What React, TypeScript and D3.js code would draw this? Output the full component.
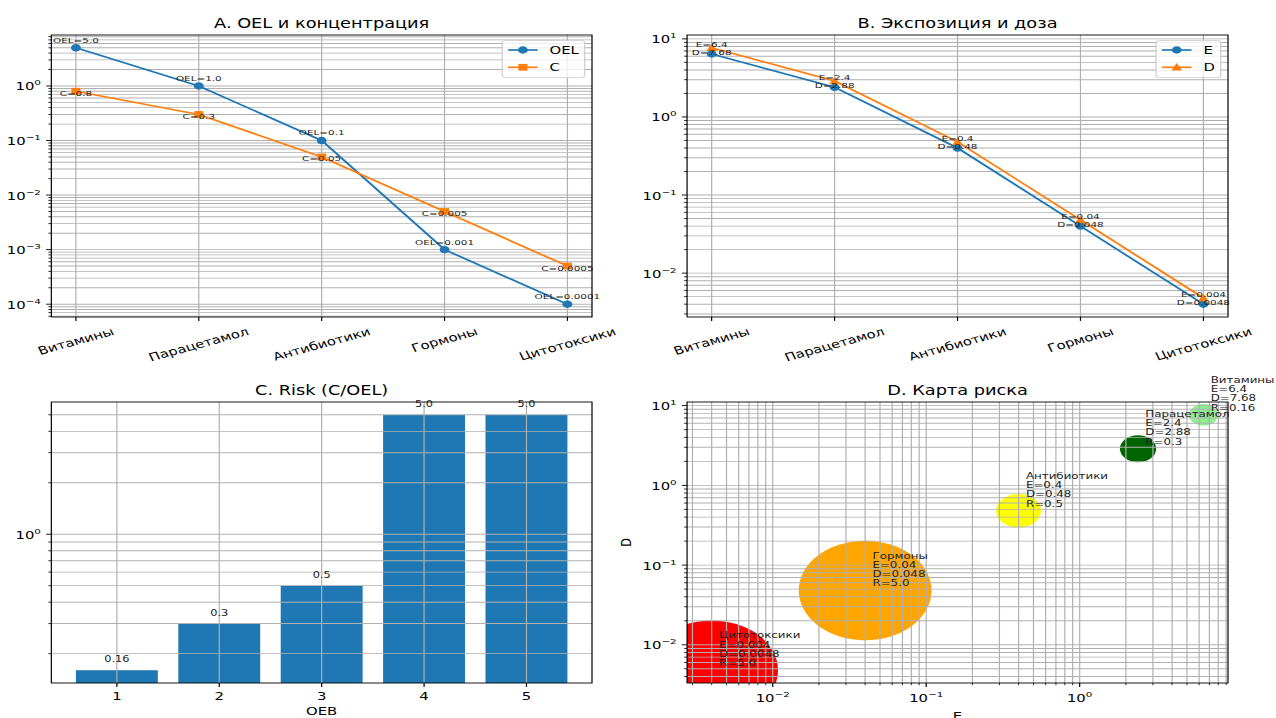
import React from 'react';
import * as d3 from 'd3';

// ---------- data ----------
const categories = ['Витамины', 'Парацетамол', 'Антибиотики', 'Гормоны', 'Цитотоксики'];
const oelValues = [5.0, 1.0, 0.1, 0.001, 0.0001];
const concValues = [0.8, 0.3, 0.05, 0.005, 0.0005];
const exposureValues = [6.4, 2.4, 0.4, 0.04, 0.004];
const doseValues = [7.68, 2.88, 0.48, 0.048, 0.0048];
const oebLevels = [1, 2, 3, 4, 5];
const riskValues = [0.16, 0.3, 0.5, 5.0, 5.0];
const riskColors = ['#90ee90', '#006400', '#ffff00', '#ffa500', '#ff0000'];

const titles = ['A. OEL и концентрация', 'B. Экспозиция и доза', 'C. Risk (C/OEL)', 'D. Карта риска'];

// ---------- layout (drawn in an unstretched space, stretched to 1276 wide) ----------
const VW = 957;
const VH = 718;
const FONT = '"DejaVu Sans", sans-serif';
const GRID = '#b0b0b0';
const BLUE = '#1f77b4';
const ORANGE = '#ff7f0e';

const PA = { x0: 38.5, x1: 444, y0: 35, y1: 317 };
const PB = { x0: 515.3, x1: 921, y0: 35, y1: 317 };
const PC = { x0: 38.5, x1: 444, y0: 402, y1: 683 };
const PD = { x0: 515.3, x1: 921, y0: 402, y1: 683 };

let ctx: CanvasRenderingContext2D | null = null;
function textWidth(t: string, size: number) {
  if (!ctx && typeof document !== 'undefined') ctx = document.createElement('canvas').getContext('2d');
  if (!ctx) return t.length * size * 0.6;
  ctx.font = `${size}px "DejaVu Sans"`;
  return ctx.measureText(t).width;
}

function fmt(v: number) {
  return Number.isInteger(v) ? v.toFixed(1) : String(v);
}

function logPad(values: number[]) {
  const l = values.map((v) => Math.log10(v));
  const lo = Math.min(...l), hi = Math.max(...l);
  const m = (hi - lo) * 0.05;
  return [Math.pow(10, lo - m), Math.pow(10, hi + m)];
}

function logTicks(domain: number[]) {
  const [a, b] = domain;
  const lo = Math.floor(Math.log10(a)), hi = Math.ceil(Math.log10(b));
  const major: { v: number; k: number }[] = [];
  const minor: number[] = [];
  for (let k = lo; k <= hi; k++) {
    for (let m = 1; m <= 9; m++) {
      const v = m * Math.pow(10, k);
      if (v >= a * 0.99999 && v <= b * 1.00001) {
        if (m === 1) major.push({ v, k });
        else minor.push(v);
      }
    }
  }
  return { major, minor };
}

function Pow10({ x, y, k, anchor, size }: any) {
  return (
    <text x={x} y={y} textAnchor={anchor} fontSize={size} fontFamily={FONT} fill="#000">
      10
      <tspan dy={-size * 0.45} fontSize={size * 0.7}>
        {k < 0 ? '\u2212' + -k : String(k)}
      </tspan>
    </text>
  );
}

const TICK = 11.1;
const MAJ = 3.9;
const MIN = 2.2;
const ROT = 20;

function Spines({ p }: any) {
  return (
    <rect x={p.x0} y={p.y0} width={p.x1 - p.x0} height={p.y1 - p.y0} fill="none" stroke="#000" strokeWidth={0.9} />
  );
}

function Title({ p, text }: any) {
  return (
    <text x={(p.x0 + p.x1) / 2} y={p.y0 - 7} textAnchor="middle" fontSize={13.3} fontFamily={FONT} fill="#000">
      {text}
    </text>
  );
}

function YLogAxis({ p, scale, grid }: any) {
  const { major, minor } = logTicks(scale.domain());
  return (
    <g>
      {grid &&
        [...major.map((m: any) => m.v), ...minor].map((v: number, i: number) => (
          <line key={'g' + i} x1={p.x0} x2={p.x1} y1={scale(v)} y2={scale(v)} stroke={GRID} strokeWidth={0.9} />
        ))}
    </g>
  );
}

function YLogTicks({ p, scale }: any) {
  const { major, minor } = logTicks(scale.domain());
  return (
    <g>
      {major.map((m: any, i: number) => (
        <g key={'M' + i}>
          <line x1={p.x0 - MAJ} x2={p.x0} y1={scale(m.v)} y2={scale(m.v)} stroke="#000" strokeWidth={0.9} />
          <Pow10 x={p.x0 - MAJ - 3.9} y={scale(m.v) + 4.5} k={m.k} anchor="end" size={TICK} />
        </g>
      ))}
      {minor.map((v: number, i: number) => (
        <line key={'m' + i} x1={p.x0 - MIN} x2={p.x0} y1={scale(v)} y2={scale(v)} stroke="#000" strokeWidth={0.7} />
      ))}
    </g>
  );
}

function CategoryXAxis({ p, scale }: any) {
  const ang = (ROT * Math.PI) / 180;
  return (
    <g>
      {categories.map((c, i) => {
        const x = scale(i);
        const w = textWidth(c, TICK);
        const h = 13;
        const boxH = w * Math.sin(ang) + h * Math.cos(ang);
        const cy = p.y1 + MAJ + 3.9 + boxH / 2;
        return (
          <g key={c}>
            <line x1={x} x2={x} y1={p.y1} y2={p.y1 + MAJ} stroke="#000" strokeWidth={0.9} />
            <text
              transform={`translate(${x},${cy}) rotate(${-ROT})`}
              textAnchor="middle"
              dominantBaseline="central"
              fontSize={TICK}
              fontFamily={FONT}
              fill="#000"
            >
              {c}
            </text>
          </g>
        );
      })}
    </g>
  );
}

function Marker({ type, x, y, color }: any) {
  if (type === 'circle') return <circle cx={x} cy={y} r={3.7} fill={color} />;
  if (type === 'square') return <rect x={x - 3.4} y={y - 3.4} width={6.8} height={6.8} fill={color} />;
  return <path d={`M${x},${y - 4.3}L${x - 4},${y + 3.2}L${x + 4},${y + 3.2}Z`} fill={color} />;
}

function Legend({ p, items }: any) {
  const fs = 11.1;
  const maxW = Math.max(...items.map((it: any) => textWidth(it.label, fs)));
  const w = 4.4 + 22.2 + 8.9 + maxW + 4.4;
  const h = 37;
  const x = p.x1 - 5.5 - w;
  const y = p.y0 + 5.6;
  return (
    <g>
      <rect x={x} y={y} width={w} height={h} rx={2.5} fill="#fff" fillOpacity={0.8} stroke="#cccccc" strokeWidth={0.9} />
      {items.map((it: any, i: number) => {
        const cy = y + 9.4 + i * 17.3;
        const hx0 = x + 4.4;
        const hx1 = hx0 + 22.2;
        return (
          <g key={it.label}>
            <line x1={hx0} x2={hx1} y1={cy} y2={cy} stroke={it.color} strokeWidth={1.67} />
            <Marker type={it.marker} x={(hx0 + hx1) / 2} y={cy} color={it.color} />
            <text x={hx1 + 8.9} y={cy} dominantBaseline="central" fontSize={fs} fontFamily={FONT} fill="#000">
              {it.label}
            </text>
          </g>
        );
      })}
    </g>
  );
}

function PanelA() {
  const p = PA;
  const x = d3.scaleLinear().domain([-0.2, categories.length - 1 + 0.2]).range([p.x0, p.x1]);
  const y = d3.scaleLog().domain(logPad([...oelValues, ...concValues])).range([p.y1, p.y0]);
  const line = d3.line<number>().x((_, i) => x(i)).y((v) => y(v));
  return (
    <g>
      <YLogAxis p={p} scale={y} grid />
      {categories.map((_, i) => (
        <line key={i} x1={x(i)} x2={x(i)} y1={p.y0} y2={p.y1} stroke={GRID} strokeWidth={0.9} />
      ))}
      <path d={line(oelValues) || ''} fill="none" stroke={BLUE} strokeWidth={1.67} />
      {oelValues.map((v, i) => <Marker key={'o' + i} type="circle" x={x(i)} y={y(v)} color={BLUE} />)}
      <path d={line(concValues) || ''} fill="none" stroke={ORANGE} strokeWidth={1.67} />
      {concValues.map((v, i) => <Marker key={'c' + i} type="square" x={x(i)} y={y(v)} color={ORANGE} />)}
      {oelValues.map((v, i) => (
        <text key={'ot' + i} x={x(i)} y={y(v) - 8} textAnchor="middle" dominantBaseline="central" fontSize={7.8} fontFamily={FONT} fill="#222">
          {'OEL=' + fmt(v)}
        </text>
      ))}
      {concValues.map((v, i) => (
        <text key={'ct' + i} x={x(i)} y={y(v) + 1.5} textAnchor="middle" dominantBaseline="central" fontSize={7.8} fontFamily={FONT} fill="#222">
          {'C=' + fmt(v)}
        </text>
      ))}
      <Spines p={p} />
      <YLogTicks p={p} scale={y} />
      <CategoryXAxis p={p} scale={x} />
      <Legend
        p={p}
        items={[
          { label: 'OEL', color: BLUE, marker: 'circle' },
          { label: 'C', color: ORANGE, marker: 'square' },
        ]}
      />
      <Title p={p} text={titles[0]} />
    </g>
  );
}

function PanelB() {
  const p = PB;
  const x = d3.scaleLinear().domain([-0.2, categories.length - 1 + 0.2]).range([p.x0, p.x1]);
  const y = d3.scaleLog().domain(logPad([...exposureValues, ...doseValues])).range([p.y1, p.y0]);
  const line = d3.line<number>().x((_, i) => x(i)).y((v) => y(v));
  return (
    <g>
      <YLogAxis p={p} scale={y} grid />
      {categories.map((_, i) => (
        <line key={i} x1={x(i)} x2={x(i)} y1={p.y0} y2={p.y1} stroke={GRID} strokeWidth={0.9} />
      ))}
      <path d={line(exposureValues) || ''} fill="none" stroke={BLUE} strokeWidth={1.67} />
      {exposureValues.map((v, i) => <Marker key={'e' + i} type="circle" x={x(i)} y={y(v)} color={BLUE} />)}
      <path d={line(doseValues) || ''} fill="none" stroke={ORANGE} strokeWidth={1.67} />
      {doseValues.map((v, i) => <Marker key={'d' + i} type="triangle" x={x(i)} y={y(v)} color={ORANGE} />)}
      {exposureValues.map((v, i) => (
        <g key={'t' + i}>
          <text x={x(i)} y={y(doseValues[i]) - 4.15} textAnchor="middle" dominantBaseline="central" fontSize={7.8} fontFamily={FONT} fill="#222">
            {'E=' + fmt(v)}
          </text>
          <text x={x(i)} y={y(doseValues[i]) + 4.15} textAnchor="middle" dominantBaseline="central" fontSize={7.8} fontFamily={FONT} fill="#222">
            {'D=' + fmt(doseValues[i])}
          </text>
        </g>
      ))}
      <Spines p={p} />
      <YLogTicks p={p} scale={y} />
      <CategoryXAxis p={p} scale={x} />
      <Legend
        p={p}
        items={[
          { label: 'E', color: BLUE, marker: 'circle' },
          { label: 'D', color: ORANGE, marker: 'triangle' },
        ]}
      />
      <Title p={p} text={titles[1]} />
    </g>
  );
}

function PanelC() {
  const p = PC;
  const x = d3.scaleLinear().domain([0.6 - 0.24, 5.4 + 0.24]).range([p.x0, p.x1]);
  const y = d3.scaleLog().domain(logPad(riskValues)).range([p.y1, p.y0]);
  return (
    <g>
      <defs>
        <clipPath id="clipC">
          <rect x={p.x0} y={p.y0} width={p.x1 - p.x0} height={p.y1 - p.y0} />
        </clipPath>
      </defs>
      <g clipPath="url(#clipC)">
        {riskValues.map((v, i) => (
          <rect key={i} x={x(oebLevels[i] - 0.4)} y={y(v)} width={x(oebLevels[i] + 0.4) - x(oebLevels[i] - 0.4)} height={p.y1 - y(v)} fill={BLUE} />
        ))}
      </g>
      <YLogAxis p={p} scale={y} grid />
      {oebLevels.map((o) => (
        <line key={o} x1={x(o)} x2={x(o)} y1={p.y0} y2={p.y1} stroke={GRID} strokeWidth={0.9} />
      ))}
      {riskValues.map((v, i) => (
        <text key={'l' + i} x={x(oebLevels[i])} y={y(v) - 11} textAnchor="middle" dominantBaseline="central" fontSize={8.5} fontFamily={FONT} fill="#222">
          {fmt(v)}
        </text>
      ))}
      <Spines p={p} />
      <YLogTicks p={p} scale={y} />
      {oebLevels.map((o) => (
        <g key={'x' + o}>
          <line x1={x(o)} x2={x(o)} y1={p.y1} y2={p.y1 + MAJ} stroke="#000" strokeWidth={0.9} />
          <text x={x(o)} y={p.y1 + 13} textAnchor="middle" dominantBaseline="central" fontSize={TICK} fontFamily={FONT} fill="#000">
            {String(o)}
          </text>
        </g>
      ))}
      <text x={(p.x0 + p.x1) / 2} y={p.y1 + 28.5} textAnchor="middle" dominantBaseline="central" fontSize={TICK} fontFamily={FONT} fill="#000">
        OEB
      </text>
      <Title p={p} text={titles[2]} />
    </g>
  );
}

function PanelD() {
  const p = PD;
  const x = d3.scaleLog().domain(logPad(exposureValues)).range([p.x0, p.x1]);
  const y = d3.scaleLog().domain(logPad(doseValues)).range([p.y1, p.y0]);
  const area = d3.scaleLinear().domain([0, 5]).range([38, 2480]);
  const xt = logTicks(x.domain());
  return (
    <g>
      <defs>
        <clipPath id="clipD">
          <rect x={p.x0} y={p.y0} width={p.x1 - p.x0} height={p.y1 - p.y0} />
        </clipPath>
      </defs>
      <g clipPath="url(#clipD)">
        {riskValues.map((r, i) => (
          <circle key={i} cx={x(exposureValues[i])} cy={y(doseValues[i])} r={Math.sqrt(area(r))} fill={riskColors[i]} />
        ))}
      </g>
      <YLogAxis p={p} scale={y} grid />
      {[...xt.major.map((m) => m.v), ...xt.minor].map((v, i) => (
        <line key={'vx' + i} x1={x(v)} x2={x(v)} y1={p.y0} y2={p.y1} stroke={GRID} strokeWidth={0.9} />
      ))}
      <Spines p={p} />
      <YLogTicks p={p} scale={y} />
      {xt.major.map((m, i) => (
        <g key={'xm' + i}>
          <line x1={x(m.v)} x2={x(m.v)} y1={p.y1} y2={p.y1 + MAJ} stroke="#000" strokeWidth={0.9} />
          <Pow10 x={x(m.v)} y={p.y1 + 19} k={m.k} anchor="middle" size={TICK} />
        </g>
      ))}
      {xt.minor.map((v, i) => (
        <line key={'xn' + i} x1={x(v)} x2={x(v)} y1={p.y1} y2={p.y1 + MIN} stroke="#000" strokeWidth={0.7} />
      ))}
      {categories.map((c, i) => {
        const cx = x(exposureValues[i]) + 5.5;
        const base = y(doseValues[i]) - 4;
        const lines = [c, 'E=' + fmt(exposureValues[i]), 'D=' + fmt(doseValues[i]), 'R=' + fmt(riskValues[i])];
        return (
          <g key={'lab' + i}>
            {lines.map((t, j) => (
              <text key={j} x={cx} y={base - (lines.length - 1 - j) * 9.3} fontSize={8.9} fontFamily={FONT} fill="#222">
                {t}
              </text>
            ))}
          </g>
        );
      })}
      <text x={(p.x0 + p.x1) / 2} y={p.y1 + 33} textAnchor="middle" dominantBaseline="central" fontSize={TICK} fontFamily={FONT} fill="#000">
        E
      </text>
      <text transform={`translate(${469.6},${(p.y0 + p.y1) / 2}) rotate(-90)`} textAnchor="middle" dominantBaseline="central" fontSize={TICK} fontFamily={FONT} fill="#000">
        D
      </text>
      <Title p={p} text={titles[3]} />
    </g>
  );
}

export default function App() {
  return (
    <svg
      width={1276}
      height={718}
      viewBox={`0 0 ${VW} ${VH}`}
      preserveAspectRatio="none"
      style={{ position: 'absolute', left: 0, top: 0, background: '#fff' }}
    >
      <rect x={0} y={0} width={VW} height={VH} fill="#fff" />
      <PanelA />
      <PanelB />
      <PanelC />
      <PanelD />
    </svg>
  );
}
